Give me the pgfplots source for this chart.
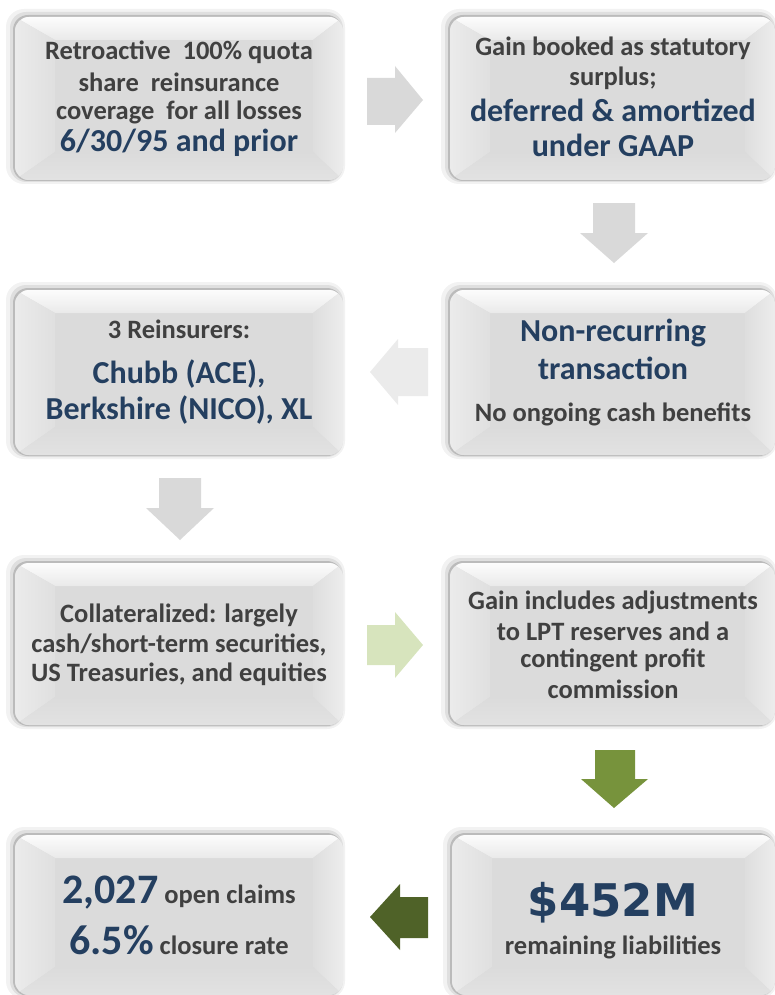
\documentclass[border=0pt]{standalone}
\usepackage{fontspec}
\setmainfont{Carlito}
\newfontfamily\heavy{DejaVu Sans}
\usepackage{pgfplots}
\pgfplotsset{compat=1.18}
\definecolor{txt}{HTML}{404040}
\definecolor{navy}{HTML}{243F60}
\definecolor{face}{HTML}{DBDBDB}
\definecolor{arrgray}{HTML}{D9D9D9}
\definecolor{arrlight}{HTML}{EBEBEB}
\definecolor{grnlight}{HTML}{D7E4BD}
\definecolor{grnmid}{HTML}{77933C}
\definecolor{grndark}{HTML}{4F6228}

% bevelled box: x1 y1 x2 y2 (pixel space, y downwards)
\newcommand{\bbox}[4]{%
  \fill[black,opacity=0.05,rounded corners=18pt] (axis cs:#1-9,#2-8) rectangle (axis cs:#3+2,#4+4);
  \fill[black,opacity=0.08,rounded corners=16pt] (axis cs:#1-5,#2-5) rectangle (axis cs:#3,#4+2);
  \fill[black,opacity=0.16,rounded corners=15pt] (axis cs:#1-2,#2-2) rectangle (axis cs:#3-1,#4+1);
  \begin{scope}
    \clip[rounded corners=14pt] (axis cs:#1,#2) rectangle (axis cs:#3,#4);
    \fill[face] (axis cs:#1,#2) rectangle (axis cs:#3,#4);
    \shade[top color=white!92!face, bottom color=white!40!face] (axis cs:#1,#2) -- (axis cs:#3,#2) -- (axis cs:#3-30,#2+23) -- (axis cs:#1+40,#2+23) -- cycle;
    \shade[left color=white!45!face, right color=white!12!face] (axis cs:#1,#2) -- (axis cs:#1+40,#2+23) -- (axis cs:#1+40,#4-28) -- (axis cs:#1,#4) -- cycle;
    \shade[left color=white!8!face, right color=white!50!face] (axis cs:#3,#2) -- (axis cs:#3-30,#2+23) -- (axis cs:#3-30,#4-28) -- (axis cs:#3,#4) -- cycle;
    \shade[top color=face, bottom color=white!20!face] (axis cs:#1,#4) -- (axis cs:#1+40,#4-28) -- (axis cs:#3-30,#4-28) -- (axis cs:#3,#4) -- cycle;
  \end{scope}
}

\begin{document}
\begin{tikzpicture}
\begin{axis}[
  width=775pt, height=995pt, scale only axis,
  xmin=0, xmax=775, ymin=0, ymax=995,
  y dir=reverse,
  hide axis,
]
% boxes
\bbox{15}{17}{343}{180}
\bbox{450}{17}{775}{180}
\bbox{15}{290}{343}{455}
\bbox{450}{290}{775}{455}
\bbox{15}{563}{343}{725}
\bbox{450}{563}{775}{725}
\bbox{15}{835}{343}{995}
\bbox{452}{835}{775}{995}

% arrows
\addplot[fill=arrgray, draw=none] coordinates {(367,78) (395,78) (395,66) (423,100) (395,133) (395,125) (367,125)} -- cycle;
\addplot[fill=arrgray, draw=none] coordinates {(593,203) (635,203) (635,233) (648,233) (614,263) (580,233) (593,233)} -- cycle;
\addplot[fill=arrlight, draw=none] coordinates {(428,348) (398,348) (398,339) (370,372) (398,405) (398,396) (428,396)} -- cycle;
\addplot[fill=arrgray, draw=none] coordinates {(159,478) (201,478) (201,508) (214,508) (180,540) (146,508) (159,508)} -- cycle;
\addplot[fill=grnlight, draw=none] coordinates {(367,625) (395,625) (395,612) (423,645) (395,678) (395,665) (367,665)} -- cycle;
\addplot[fill=grnmid, draw=none] coordinates {(595,750) (635,750) (635,779) (648,779) (614,808) (581,779) (595,779)} -- cycle;
\addplot[fill=grndark, draw=none] coordinates {(428,897) (400,897) (400,884) (370,917) (400,950) (400,938) (428,938)} -- cycle;

% texts
\tikzset{body/.style={font=\bfseries\fontsize{26.5}{30}\selectfont, text=txt},
         big/.style={font=\bfseries\fontsize{32}{36}\selectfont, text=navy}}
\node[body] at (axis cs:179,52) {Retroactive\ \ 100\% quota};
\node[body] at (axis cs:179,82) {share\ \ reinsurance};
\node[body] at (axis cs:179,112) {coverage\ \ for all losses};
\node[big] at (axis cs:179,143) {6/30/95 and prior};

\node[body] at (axis cs:613,48) {Gain booked as statutory};
\node[body] at (axis cs:613,78) {surplus;};
\node[big] at (axis cs:613,110) {deferred \& amortized};
\node[big] at (axis cs:613,145) {under GAAP};

\node[body] at (axis cs:179,329) {3 Reinsurers:};
\node[big] at (axis cs:179,374) {Chubb (ACE),};
\node[big] at (axis cs:179,410) {Berkshire (NICO), XL};

\node[big] at (axis cs:613,333) {Non-recurring};
\node[big] at (axis cs:613,368) {transaction};
\node[body] at (axis cs:613,414) {No ongoing cash benefits};

\node[body] at (axis cs:179,615) {Collateralized: largely};
\node[body] at (axis cs:179,645) {cash/short-term securities,};
\node[body] at (axis cs:179,674) {US Treasuries, and equities};

\node[body] at (axis cs:613,602) {Gain includes adjustments};
\node[body] at (axis cs:613,631) {to LPT reserves and a};
\node[body] at (axis cs:613,660) {contingent profit};
\node[body] at (axis cs:613,689) {commission};

\node[text=txt, font=\bfseries\fontsize{26.5}{30}\selectfont] at (axis cs:179,893) {\textcolor{navy}{\fontsize{42}{46}\selectfont 2,027} open claims};
\node[text=txt, font=\bfseries\fontsize{26.5}{30}\selectfont] at (axis cs:179,940) {\textcolor{navy}{\fontsize{42}{46}\selectfont 6.5\%} closure rate};

\node[text=navy, font=\heavy\bfseries\fontsize{45}{50}\selectfont] at (axis cs:613,903) {\$452M};
\node[body] at (axis cs:613,947) {remaining liabilities};
\end{axis}
\pgfresetboundingbox
\path (current axis.south west) rectangle (current axis.north east);
\end{tikzpicture}
\end{document}
